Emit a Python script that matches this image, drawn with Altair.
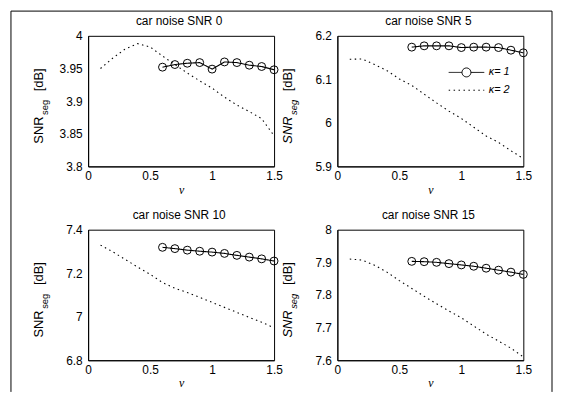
import altair as alt
import pandas as pd

# ---------------- data ----------------
nu_k1 = [0.6, 0.7, 0.8, 0.9, 1.0, 1.1, 1.2, 1.3, 1.4, 1.5]
nu_k2 = [0.1, 0.2, 0.3, 0.4, 0.5, 0.6, 0.7, 0.8, 0.9, 1.0, 1.1, 1.2, 1.3, 1.4, 1.5]

snr0_k1 = [3.952, 3.956, 3.958, 3.959, 3.949, 3.960, 3.959, 3.955, 3.953, 3.948]
snr0_k2 = [3.950, 3.966, 3.980, 3.988, 3.983, 3.969, 3.956, 3.943, 3.931, 3.920,
           3.906, 3.894, 3.884, 3.873, 3.847]

snr5_k1 = [6.174, 6.177, 6.177, 6.177, 6.173, 6.174, 6.174, 6.173, 6.167, 6.161]
snr5_k2 = [6.146, 6.147, 6.134, 6.120, 6.101, 6.086, 6.066, 6.046, 6.027, 6.010,
           5.990, 5.970, 5.955, 5.936, 5.918]

snr10_k1 = [7.319, 7.313, 7.306, 7.301, 7.297, 7.291, 7.282, 7.274, 7.266, 7.256]
snr10_k2 = [7.329, 7.298, 7.263, 7.228, 7.195, 7.157, 7.131, 7.111, 7.089, 7.066,
            7.043, 7.020, 6.997, 6.975, 6.949]

snr15_k1 = [7.903, 7.902, 7.900, 7.896, 7.892, 7.888, 7.882, 7.876, 7.870, 7.863]
snr15_k2 = [7.910, 7.907, 7.891, 7.870, 7.844, 7.820, 7.796, 7.773, 7.751, 7.730,
            7.705, 7.680, 7.659, 7.637, 7.610]

titles = ["car noise SNR 0", "car noise SNR 5", "car noise SNR 10", "car noise SNR 15"]
x_ticks = [0, 0.5, 1, 1.5]
y_ticks = [
    [3.8, 3.85, 3.9, 3.95, 4.0],
    [5.9, 6.0, 6.1, 6.2],
    [6.8, 7.0, 7.2, 7.4],
    [7.6, 7.7, 7.8, 7.9, 8.0],
]
y_domains = [[3.8, 4.0], [5.9, 6.2], [6.8, 7.4], [7.6, 8.0]]
kappa_labels = ["1", "2"]

FONT = "Liberation Sans"
W, H = 188, 132

K1_PATH = "M-1,0H-0.25M0.25,0H1M0.25,0A0.25,0.25,0,1,1,-0.25,0A0.25,0.25,0,1,1,0.25,0"
K2_PATH = "M-1,0H1"


def panel(idx, k1, k2, legend=False, frame=False, italic=False):
    df = pd.DataFrame({
        "nu": nu_k1 + nu_k2,
        "snr": k1 + k2,
        "kappa": [kappa_labels[0]] * len(k1) + [kappa_labels[1]] * len(k2),
    })
    x = alt.X("nu:Q", scale=alt.Scale(domain=[0, 1.5], nice=False, zero=False),
              axis=alt.Axis(values=x_ticks, format=".2~f", title="ν", grid=False,
                            ticks=False, labelFlush=False, labelPadding=4,
                            labelFont=FONT, labelFontSize=12, labelColor="black",
                            domainColor="black", titleFont="Liberation Serif",
                            titleFontStyle="italic", titleFontWeight="normal",
                            titleFontSize=12, titleColor="black", titlePadding=3))
    y = alt.Y("snr:Q", scale=alt.Scale(domain=y_domains[idx], nice=False, zero=False),
              axis=alt.Axis(values=y_ticks[idx], format=".2~f", title=None, grid=False,
                            ticks=False, labelFlush=False, labelPadding=6,
                            labelOverlap=False, labelFont=FONT, labelFontSize=12,
                            labelColor="black", domainColor="black"))
    if legend:
        leg = alt.Legend(
            orient="none", legendX=112, legendY=28, title=None,
            symbolSize=1296, clipHeight=18, rowPadding=0, labelOffset=4,
            labelFont=FONT, labelFontSize=11, labelFontStyle="italic",
            labelColor="black", labelExpr="'κ= ' + datum.label",
            symbolStrokeColor="black", symbolStrokeWidth=1,
            symbolFillColor="transparent",
            symbolType={"expr": "datum.value == '1' ? '%s' : '%s'" % (K1_PATH, K2_PATH)},
        )
    else:
        leg = None
    dash = alt.StrokeDash("kappa:N",
                          scale=alt.Scale(domain=kappa_labels, range=[[1, 0], [1.5, 3.5]]),
                          legend=leg)
    lines = alt.Chart(df).mark_line(color="black", strokeWidth=1.1).encode(
        x=x, y=y, strokeDash=dash)
    pts = alt.Chart(df).transform_filter("datum.kappa == '1'").mark_point(
        shape="circle", filled=False, color="black", size=64, strokeWidth=1, opacity=1
    ).encode(x=x, y=y)

    one = pd.DataFrame({"a": [0]})
    style = "italic" if italic else "normal"
    title = alt.Chart(one).mark_text(text=titles[idx], align="center", baseline="middle",
                                     font=FONT, fontSize=12, color="black"
                                     ).encode(x=alt.value(W / 2 - 2), y=alt.value(-15))
    t1 = alt.Chart(one).mark_text(text="SNR", angle=270, align="left", baseline="alphabetic",
                                  font=FONT, fontSize=13, fontStyle=style, color="black"
                                  ).encode(x=alt.value(-46), y=alt.value(109))
    t2 = alt.Chart(one).mark_text(text="seg", angle=270, align="left", baseline="alphabetic",
                                  font=FONT, fontSize=9.5, fontStyle=style, color="black"
                                  ).encode(x=alt.value(-41), y=alt.value(80))
    t3 = alt.Chart(one).mark_text(text="[dB]", angle=270, align="left", baseline="alphabetic",
                                  font=FONT, fontSize=13, color="black"
                                  ).encode(x=alt.value(-46), y=alt.value(56))
    layers = [lines, pts, title, t1, t2, t3]
    if frame:
        fl = alt.Chart(one).mark_rule(color="black", strokeWidth=1).encode(
            x=alt.value(-78), y=alt.value(-25), y2=alt.value(360))
        ft = alt.Chart(one).mark_rule(color="black", strokeWidth=1).encode(
            x=alt.value(-78), x2=alt.value(469), y=alt.value(-25))
        fr = alt.Chart(one).mark_rule(color="black", strokeWidth=1).encode(
            x=alt.value(469), y=alt.value(-25), y2=alt.value(360))
        layers += [fl, ft, fr]
    return alt.layer(*layers).properties(width=W, height=H)


p1 = panel(0, snr0_k1, snr0_k2, frame=True)
p2 = panel(1, snr5_k1, snr5_k2, legend=True, italic=True)
p3 = panel(2, snr10_k1, snr10_k2)
p4 = panel(3, snr15_k1, snr15_k2, italic=True)

chart = alt.concat(p1, p2, p3, p4, columns=2, spacing=64, bounds="flush").resolve_scale(
    strokeDash="independent"
).properties(
    padding={"left": 2, "top": 0, "right": 0, "bottom": 0},
    background="white",
).configure_view(stroke="black", strokeWidth=1)

chart.save("out.html", embed_options={"renderer": "svg", "actions": False})
